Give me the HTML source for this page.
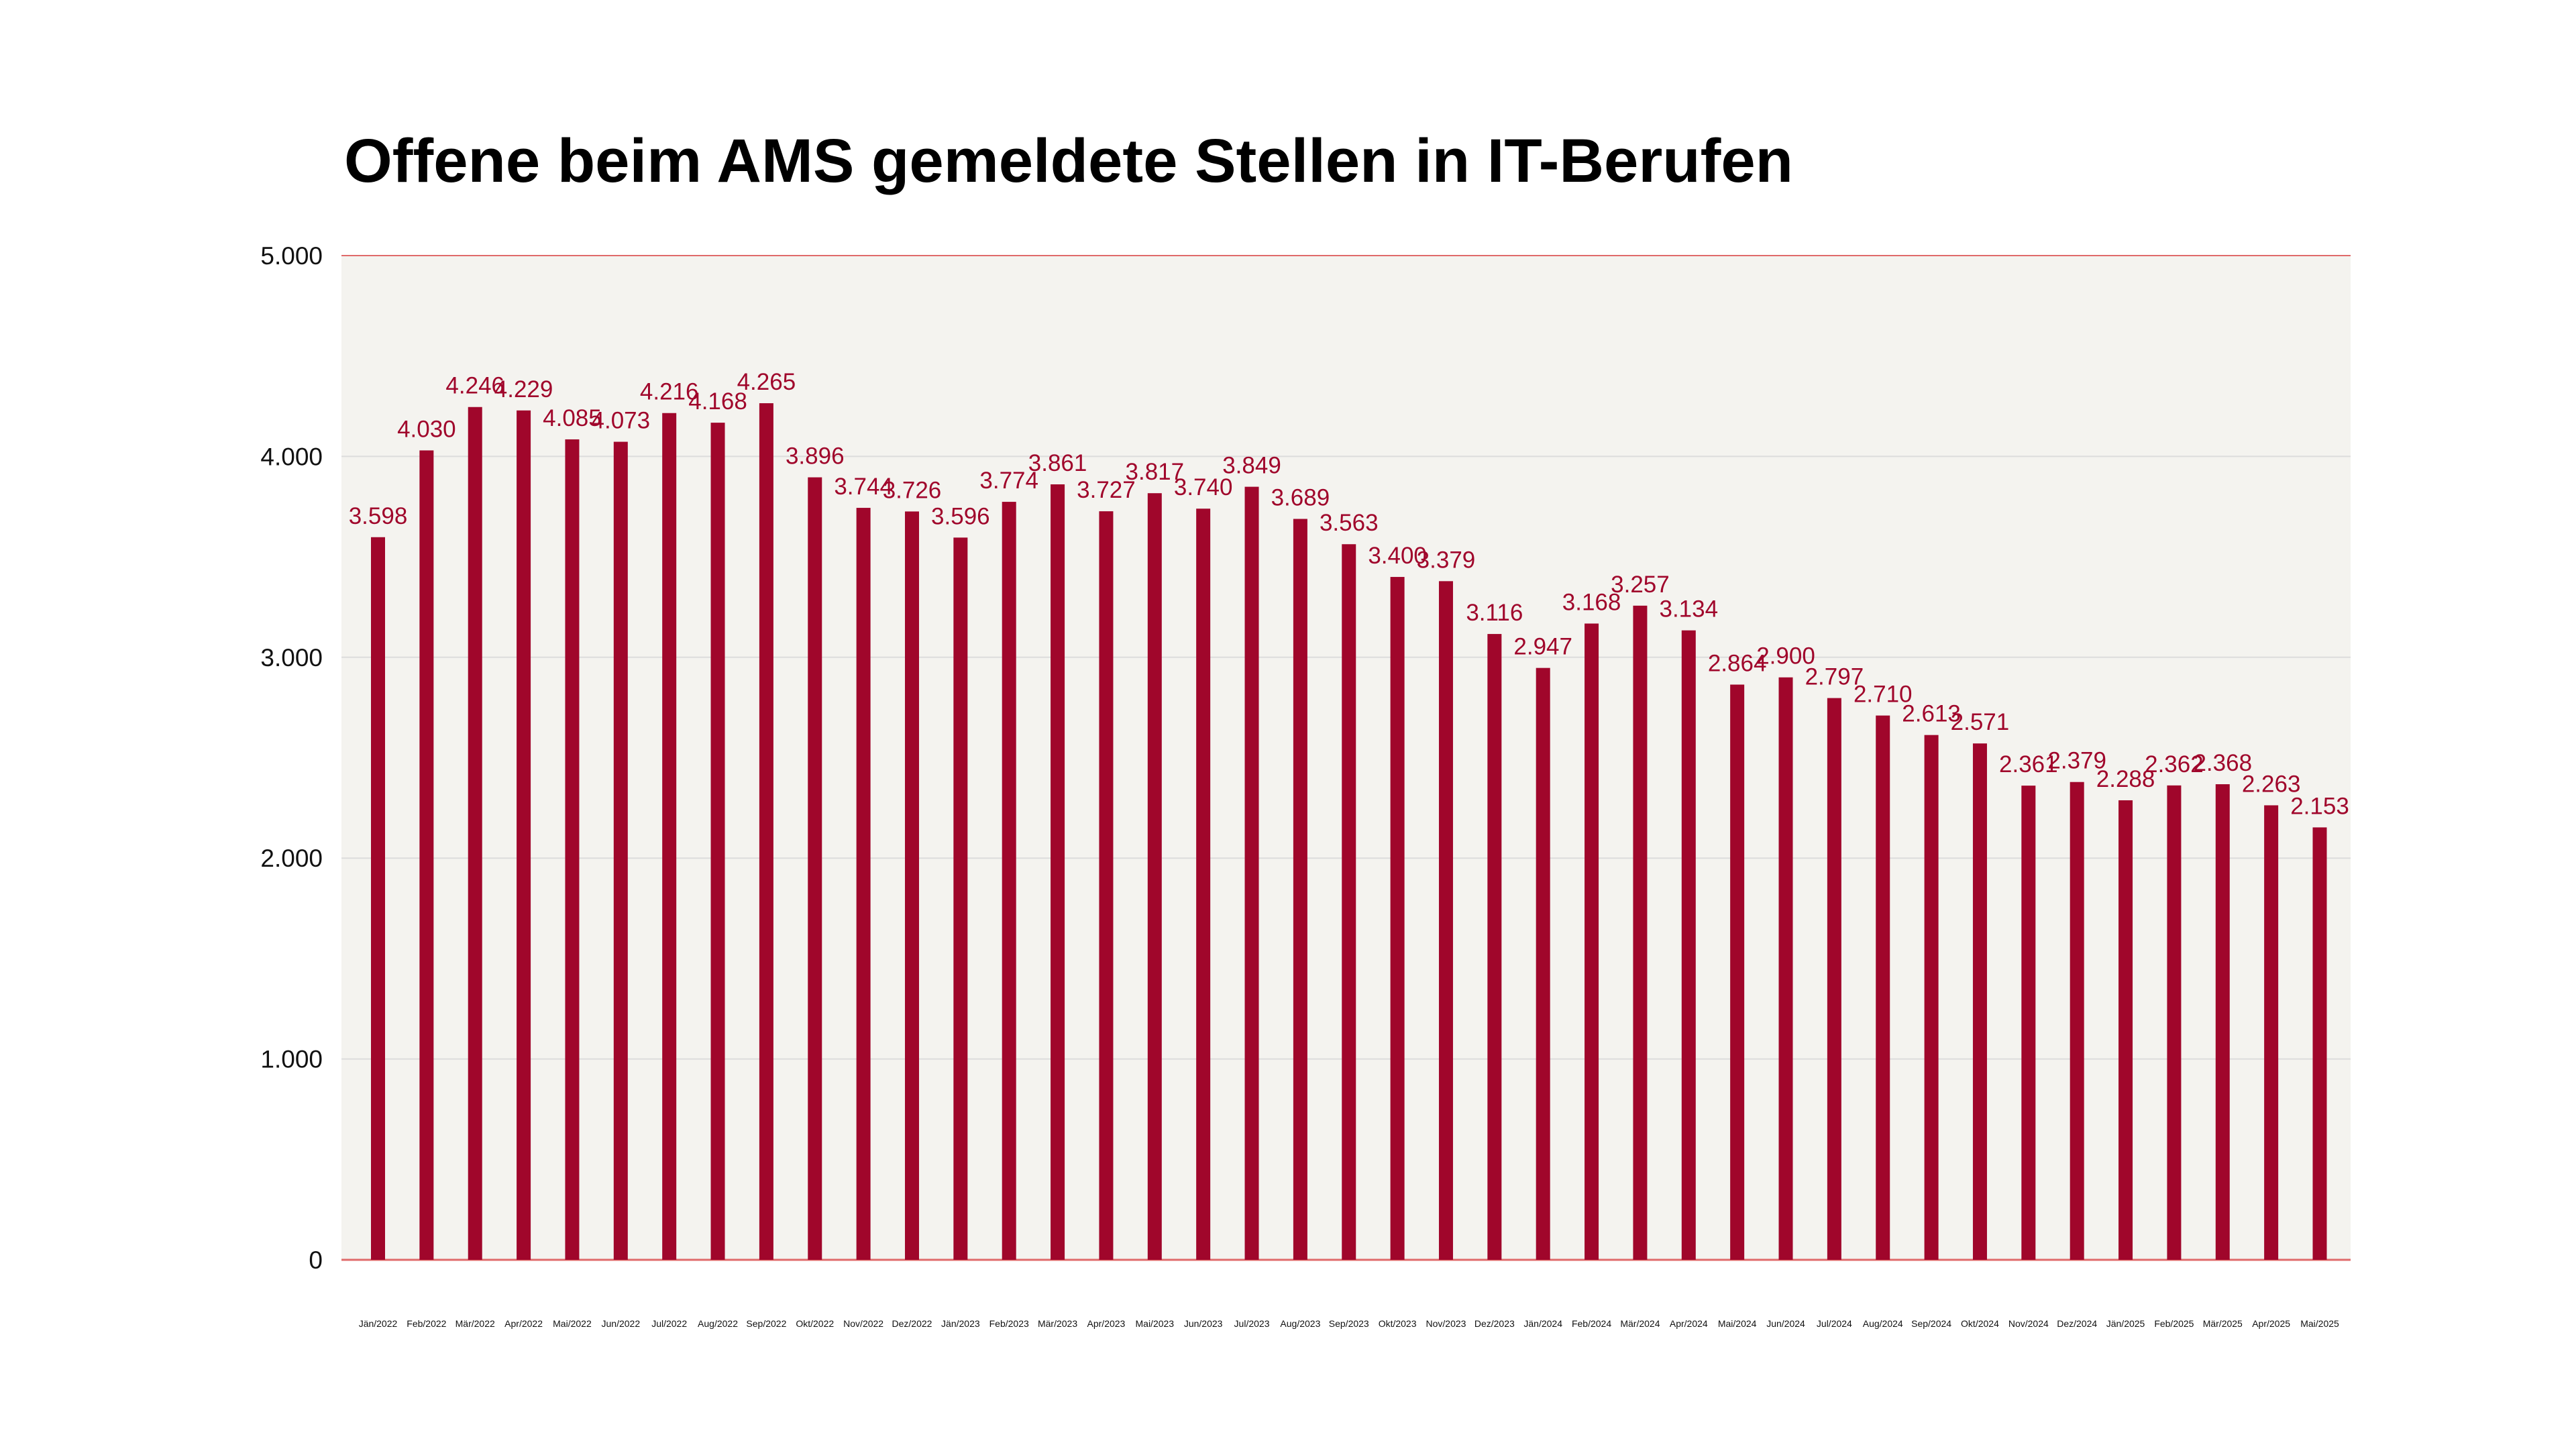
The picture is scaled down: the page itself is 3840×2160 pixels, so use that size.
<!DOCTYPE html>
<html><head><meta charset="utf-8"><style>
html,body{margin:0;padding:0;background:#fff;}
svg{display:block;}
</style></head><body>
<svg id="chart" width="3840" height="2160" xmlns="http://www.w3.org/2000/svg">
<rect x="0" y="0" width="3840" height="2160" fill="#ffffff"/>
<text x="513" y="271" font-family="Liberation Sans, sans-serif" font-weight="bold" font-size="92" fill="#000" textLength="2160" lengthAdjust="spacingAndGlyphs">Offene beim AMS gemeldete Stellen in IT-Berufen</text>
<rect x="509" y="381" width="2995" height="1497" fill="#f4f3ef"/>
<g id="grid"></g>
<g id="bars"></g>
<g id="labels"></g>
<g id="xlabels"></g>
<g id="ylabels"></g>
</svg>
<script>
const categories = ["Jän/2022","Feb/2022","Mär/2022","Apr/2022","Mai/2022","Jun/2022","Jul/2022","Aug/2022","Sep/2022","Okt/2022","Nov/2022","Dez/2022","Jän/2023","Feb/2023","Mär/2023","Apr/2023","Mai/2023","Jun/2023","Jul/2023","Aug/2023","Sep/2023","Okt/2023","Nov/2023","Dez/2023","Jän/2024","Feb/2024","Mär/2024","Apr/2024","Mai/2024","Jun/2024","Jul/2024","Aug/2024","Sep/2024","Okt/2024","Nov/2024","Dez/2024","Jän/2025","Feb/2025","Mär/2025","Apr/2025","Mai/2025"];
const values = [3598,4030,4246,4229,4085,4073,4216,4168,4265,3896,3744,3726,3596,3774,3861,3727,3817,3740,3849,3689,3563,3400,3379,3116,2947,3168,3257,3134,2864,2900,2797,2710,2613,2571,2361,2379,2288,2362,2368,2263,2153];
const yTicks = [0,1000,2000,3000,4000,5000];
const yTickLabels = ["0","1.000","2.000","3.000","4.000","5.000"];

const NS = "http://www.w3.org/2000/svg";
const plotLeft = 509, plotRight = 3504, plotTop = 381, plotBottom = 1878, yMax = 5000;
const firstCenter = 563.5, step = (3458 - 563.5) / 40, barW = 21;
function yScale(v){ return plotBottom - (v / yMax) * (plotBottom - plotTop); }
function xScale(i){ return firstCenter + i * step; }
function fmt(v){ return v >= 1000 ? Math.floor(v/1000) + "." + String(v%1000).padStart(3,"0") : String(v); }
function mk(tag, attrs){ const e = document.createElementNS(NS, tag); for (const k in attrs) e.setAttribute(k, attrs[k]); return e; }

const grid = document.getElementById("grid");
const ylab = document.getElementById("ylabels");
yTicks.forEach((t, i) => {
  const y = yScale(t);
  const isEdge = (t === 0 || t === yMax);
  const ln = mk("line", {x1: plotLeft, x2: plotRight, y1: y, y2: y, stroke: isEdge ? "#e06a6a" : "#dcdcdc", "stroke-width": t === 0 ? 3 : 2});
  
  
  grid.appendChild(ln);
  const tx = mk("text", {x: 481, y: y + 13, "text-anchor": "end", "font-family": "Liberation Sans, sans-serif", "font-size": 37, fill: "#111"});
  tx.textContent = yTickLabels[i];
  
  
  ylab.appendChild(tx);
});

const bars = document.getElementById("bars");
const labels = document.getElementById("labels");
const xl = document.getElementById("xlabels");
values.forEach((v, i) => {
  const cx = xScale(i), y = yScale(v);
  const r = mk("rect", {x: cx - barW/2, y: y, width: barW, height: plotBottom - y, fill: "#a0062b"});
  
  
  bars.appendChild(r);
  const t = mk("text", {x: cx, y: y - 20, "text-anchor": "middle", "font-family": "Liberation Sans, sans-serif", "font-size": 35, fill: "#a0062b"});
  t.textContent = fmt(v);
  
  
  labels.appendChild(t);
  const c = mk("text", {x: cx, y: 1978, "text-anchor": "middle", "font-family": "Liberation Sans, sans-serif", "font-size": 14, fill: "#111"});
  c.textContent = categories[i];
  
  
  xl.appendChild(c);
});
</script>
</body></html>
